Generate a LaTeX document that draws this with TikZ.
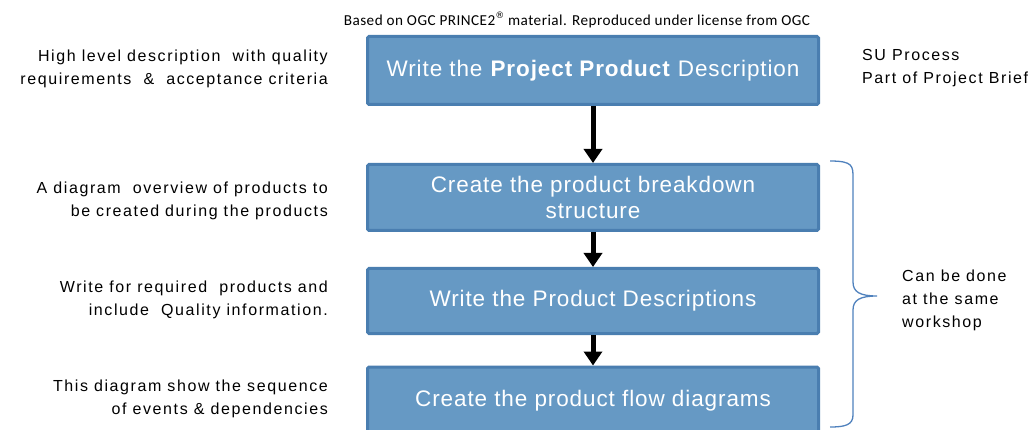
\documentclass[tikz,border=0pt]{standalone}
\usepackage{fontspec}
\setmainfont{Liberation Sans}
\newfontfamily\calfont[LetterSpace=3]{Carlito}
\newfontfamily\symfont{DejaVu Sans}
\newfontfamily\sidefont[LetterSpace=10]{Liberation Sans}
\newfontfamily\boxfont[LetterSpace=4]{Liberation Sans}
\usetikzlibrary{arrows.meta}
\definecolor{boxfill}{HTML}{6699C4}
\definecolor{boxline}{HTML}{4A7EB0}
\definecolor{bracecol}{HTML}{4F81BD}
\tikzset{
  stepbox/.style={draw=boxline, line width=3pt, fill=boxfill, rounded corners=1.5pt,
    minimum width=451pt, text=white, font=\boxfont\fontsize{22.5}{26}\selectfont, align=center, inner sep=0pt},
  flowarrow/.style={line width=5pt, -{Triangle[width=18pt,length=14pt]}},
  lefttext/.style={anchor=east, align=right, font=\sidefont\fontsize{16}{23}\selectfont, inner sep=0pt},
  righttext/.style={anchor=west, align=left, font=\sidefont\fontsize{16}{23}\selectfont, inner sep=0pt}
}
\begin{document}
\begin{tikzpicture}[x=1pt,y=-1pt]
\useasboundingbox (0,0) rectangle (1033,430);
\clip (0,0) rectangle (1033,430);
\node[font=\calfont\fontsize{15.2}{17}\selectfont, inner sep=0pt] (credit) at (577,20) {Based on OGC PRINCE2\raisebox{0.4em}{\symfont\fontsize{9}{9}\selectfont ®} material. Reproduced under license from OGC};
\node[stepbox, minimum height=68pt] (b1) at (593,70.5) {Write the \textbf{Project Product} Description};
\node[stepbox, minimum height=66pt] (b2) at (593,197.5) {Create the product breakdown\\structure};
\node[stepbox, minimum height=65pt] (b3) at (593,301) {Write the Product Descriptions};
\node[stepbox, minimum height=68pt] (b4) at (593,401) {Create the product flow diagrams};
\draw[flowarrow] (b1.south) -- (b2.north);
\draw[flowarrow] (b2.south) -- (b3.north);
\draw[flowarrow] (b3.south) -- (b4.north);
\node[lefttext] (t1) at (328,68.5) {High level description\ \ with quality\\requirements\ \ \&\ \ acceptance criteria};
\node[lefttext] (t2) at (328,200.5) {A diagram\ \ overview of products to\\be created during the products};
\node[lefttext] (t3) at (328,300) {Write for required\ \ products and\\include\ \ Quality information.};
\node[lefttext] (t4) at (328,398.5) {This diagram show the sequence\\of events \& dependencies};
\node[righttext] (r1) at (862,68.5) {SU Process\\Part of Project Brief};
\node[righttext] (r2) at (902,300) {Can be done\\at the same\\workshop};
\coordinate (bt) at (830,161);
\coordinate (bm) at (877,296);
\coordinate (bb) at (830,427);
\draw[bracecol, line width=1.3pt]
  (bt) .. controls (853,161) and (853,166) .. (853,178) -- (853,282)
  .. controls (853,292) and (860,296) .. (bm)
  .. controls (860,296) and (853,300) .. (853,310) -- (853,415)
  .. controls (853,425) and (845,427) .. (bb);
\end{tikzpicture}
\end{document}
